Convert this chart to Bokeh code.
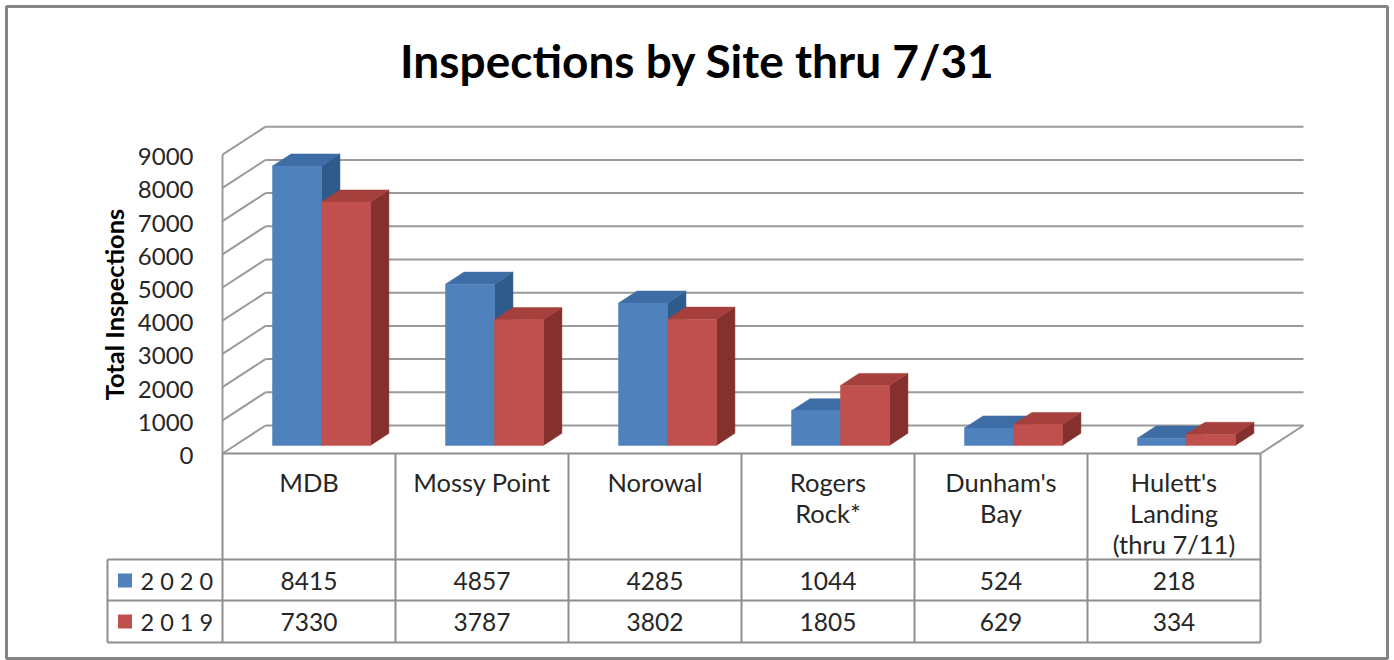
import numpy as np
from bokeh.plotting import figure
from bokeh.models import Range1d
from bokeh.core.properties import value
from bokeh.embed import file_html
from bokeh.resources import INLINE

# ---------------- data ----------------
chart_title = "Inspections by Site thru 7/31"
y_title = "Total Inspections"
sites = ["MDB", "Mossy Point", "Norowal", "Rogers\nRock*", "Dunham's\nBay",
         "Hulett's\nLanding\n(thru 7/11)"]
series_names = ["2 0 2 0", "2 0 1 9"]
inspections_2020 = [8415, 4857, 4285, 1044, 524, 218]
inspections_2019 = [7330, 3787, 3802, 1805, 629, 334]
y_ticks = [0, 1000, 2000, 3000, 4000, 5000, 6000, 7000, 8000, 9000]

# ---------------- styles / layout ----------------
series_values = [inspections_2020, inspections_2019]
front_colors = ["#4F81BD", "#C0504D"]
top_colors = ["#3E6CA4", "#A5403D"]
side_colors = ["#2F5A8C", "#86302E"]
grid_color = "#9A9A9A"
table_color = "#8E8E8E"
text_color = "#262626"
FONT = value("Lato")

W, H = 1394, 660
FL, FT, FR, FB = 6, 6, 1387, 658   # frame edges (page px)
X0, CAT = 222, 173          # page x of first category, px per category
Y0, PX1000 = 453, 33.2      # page y of value 0 (front), px per 1000
UNIT = 1000.0 / PX1000
DEPTH_X, DEPTH_Y = 43, 28   # oblique depth of floor, px
BAR_A, BAR_B = 0.29, 0.72   # bar depth fractions
BAR_W = 0.283               # bar width in category units


def X(px):
    return (px - X0) / CAT


def Y(py):
    return (Y0 - py) * UNIT


DXu = DEPTH_X / CAT
DYu = DEPTH_Y * UNIT
N = len(sites)

p = figure(width=W, height=H, x_range=Range1d(X(FL), X(FR)),
           y_range=Range1d(Y(FB), Y(FT)), output_backend="svg",
           toolbar_location=None, x_axis_type=None, y_axis_type=None,
           title=None, min_border_left=FL, min_border_top=FT,
           min_border_right=W - FR, min_border_bottom=H - FB)
p.grid.visible = False
p.outline_line_color = "#858585"
p.outline_line_width = 3
p.background_fill_color = "white"
p.border_fill_color = "white"

# ---------------- walls / grid ----------------
top_tick = max(y_ticks)
p.multi_line([[DXu, N + DXu] for t in y_ticks], [[t + DYu, t + DYu] for t in y_ticks],
             line_color=grid_color, line_width=2)
p.multi_line([[0, DXu] for t in y_ticks], [[t, t + DYu] for t in y_ticks],
             line_color=grid_color, line_width=2)
p.segment(x0=[0, N], y0=[0, 0], x1=[0, N + DXu], y1=[top_tick, DYu],
          line_color=grid_color, line_width=2)

# ---------------- bars ----------------
for i in range(N):
    for s, vals in enumerate(series_values):
        v = vals[i]
        xl = i + 0.5 - BAR_W + s * BAR_W + BAR_A * DXu
        xr = xl + BAR_W
        yb = BAR_A * DYu
        yt = v + BAR_A * DYu
        ddx = (BAR_B - BAR_A) * DXu
        ddy = (BAR_B - BAR_A) * DYu
        p.patch([xr, xr + ddx, xr + ddx, xr], [yb, yb + ddy, yt + ddy, yt],
                fill_color=side_colors[s], line_color=side_colors[s], line_width=0.5)
        p.patch([xl, xr, xr + ddx, xl + ddx], [yt, yt, yt + ddy, yt + ddy],
                fill_color=top_colors[s], line_color=top_colors[s], line_width=0.5)
        p.quad(left=[xl], right=[xr], bottom=[yb], top=[yt],
               fill_color=front_colors[s], line_color=front_colors[s], line_width=0.5)

# ---------------- y tick labels & titles ----------------
p.text(x=[X(193)] * len(y_ticks), y=[t - 2 * UNIT for t in y_ticks],
       text=[str(t) for t in y_ticks], text_align="right",
       text_baseline="middle", text_font=FONT, text_font_size="24px",
       text_color=text_color)
p.text(x=[X(113)], y=[Y(304)], text=[y_title], angle=np.pi / 2,
       text_align="center", text_baseline="middle", text_font=FONT,
       text_font_size="25.5px", text_font_style="bold", text_color="black")
p.text(x=[X(697)], y=[Y(60)], text=[chart_title], text_align="center",
       text_baseline="middle", text_font=FONT, text_font_size="46px",
       text_font_style="bold", text_color="black")

# ---------------- data table ----------------
row_lines = [Y(559), Y(600), Y(642)]
p.segment(x0=[0], y0=[0], x1=[N], y1=[0], line_color=table_color, line_width=2)
p.segment(x0=[X(107)] * 3, y0=row_lines, x1=[N] * 3, y1=row_lines,
          line_color=table_color, line_width=2)
p.segment(x0=list(range(N + 1)), y0=[0] * (N + 1), x1=list(range(N + 1)),
          y1=[row_lines[-1]] * (N + 1), line_color=table_color, line_width=2)
p.segment(x0=[X(107)], y0=[row_lines[0]], x1=[X(107)], y1=[row_lines[-1]],
          line_color=table_color, line_width=2)

hx, hy, ht = [], [], []
for i, name in enumerate(sites):
    for k, line in enumerate(name.split("\n")):
        hx.append(i + 0.5)
        hy.append(Y(481 + 31 * k))
        ht.append(line)
p.text(x=hx, y=hy, text=ht, text_align="center", text_baseline="middle",
       text_font=FONT, text_font_size="25.5px", text_color=text_color)

row_mid = [Y(580), Y(621)]
for s, vals in enumerate(series_values):
    p.text(x=[i + 0.5 for i in range(N)], y=[row_mid[s]] * N,
           text=[str(v) for v in vals], text_align="center",
           text_baseline="middle", text_font=FONT, text_font_size="24.5px",
           text_color=text_color)
    p.rect(x=[X(124.5)], y=[row_mid[s]], width=14, height=14,
           width_units="screen", height_units="screen",
           fill_color=front_colors[s], line_color=None)
    p.text(x=[X(140)], y=[row_mid[s]], text=[series_names[s]],
           text_align="left", text_baseline="middle", text_font=FONT,
           text_font_size="23.5px", text_color=text_color)

open("out.html", "w").write(file_html(p, INLINE))
